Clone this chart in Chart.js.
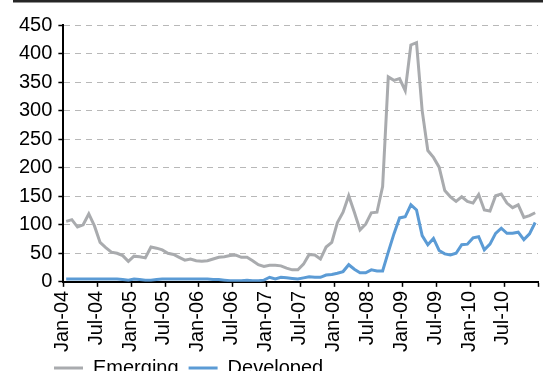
<!DOCTYPE html>
<html>
<head>
<meta charset="utf-8">
<script src="https://cdn.jsdelivr.net/npm/chart.js@4/dist/chart.umd.min.js"></script>
<style>
  html, body { margin: 0; padding: 0; background: #fff; overflow: hidden; }
  #wrap { width: 550px; height: 396px; }
</style>
</head>
<body>
<div id="wrap"><canvas id="c" width="550" height="396"></canvas></div>
<script>
// Monthly categories, Jan-04 .. Dec-10
const MONTH_NAMES = ['Jan','Feb','Mar','Apr','May','Jun','Jul','Aug','Sep','Oct','Nov','Dec'];
const YEARS = ['04','05','06','07','08','09','10'];
const categories = YEARS.flatMap(y => MONTH_NAMES.map(m => m + '-' + y));

// Emerging markets series
const emerging = [
  106, 109,  96, 100, 119,  98,  69,  60,  52,  50,  46,  36,
   45,  44,  42,  61,  59,  56,  50,  48,  43,  38,  40,  37,
   36,  37,  40,  43,  44,  46,  47,  43,  43,  37,  30,  27,
   29,  29,  28,  24,  21,  21,  31,  48,  47,  40,  61,  69,
  104, 122, 151, 122,  91, 101, 121, 122, 167, 359, 353, 356,
  335, 415, 419, 300, 230, 218, 201, 160, 149, 141, 149, 141,
  138, 153, 126, 124, 151, 154, 138, 130, 135, 113, 116, 121
];

// Developed markets series
const developed = [
    5,   5,   5,   5,   5,   5,   5,   5,   5,   5,   4,   3,
    5,   4,   3,   3,   4,   5,   5,   5,   5,   5,   5,   5,
    5,   5,   4,   4,   3,   2,   2,   2,   3,   2,   2,   3,
    8,   5,   8,   7,   6,   5,   7,   9,   8,   8,  12,  13,
   15,  18,  30,  22,  16,  16,  21,  19,  19,  52,  84, 112,
  114, 135, 126,  81,  65,  76,  55,  49,  47,  50,  65,  66,
   77,  79,  56,  66,  85,  94,  85,  85,  87,  74,  84, 104
];

// Value axis range and step
const Y_MIN = 0, Y_MAX = 450, Y_STEP = 50;
// A labelled tick every half year
const LABEL_EVERY = 6;

const FONT = 'Liberation Sans, Arial, Helvetica, sans-serif';
const GREY = '#a9abae';
const BLUE = '#5b9bd5';

// Thin dark rule across the top of the figure, and legend placement
const framePlugin = {
  id: 'frame',
  afterLayout(chart) {
    const lg = chart.legend;
    if (lg) {
      const dx = 44 - lg.left;
      lg.left += dx; lg.right += dx;
      const dy = 348 - lg.top;
      lg.top += dy; lg.bottom += dy;
    }
  },
  afterDraw(chart) {
    const ctx = chart.ctx;
    ctx.save();
    ctx.fillStyle = '#262626';
    ctx.fillRect(13, 0, 530, 2.5);
    ctx.restore();
  }
};

new Chart(document.getElementById('c'), {
  type: 'line',
  data: {
    labels: categories,
    datasets: [
      {
        label: 'Emerging',
        data: emerging,
        borderColor: GREY,
        backgroundColor: GREY,
        borderWidth: 3,
        pointRadius: 0,
        pointStyle: 'line',
        tension: 0
      },
      {
        label: 'Developed',
        data: developed,
        borderColor: BLUE,
        backgroundColor: BLUE,
        borderWidth: 3,
        pointRadius: 0,
        pointStyle: 'line',
        tension: 0
      }
    ]
  },
  options: {
    responsive: false,
    animation: false,
    devicePixelRatio: 1,
    layout: { padding: { left: 13, right: 12, top: 25, bottom: 0 } },
    plugins: {
      legend: {
        position: 'bottom',
        align: 'start',
        labels: {
          color: '#000',
          font: { family: FONT, size: 20 },
          usePointStyle: true,
          pointStyle: 'line',
          pointStyleWidth: 29,
          padding: 10
        }
      },
      tooltip: { enabled: false }
    },
    scales: {
      x: {
        type: 'category',
        offset: true,
        // the rotated end labels need no extra side room
        afterFit(scale) { scale.paddingLeft = 0; scale.paddingRight = 0; },
        grid: {
          offset: true,
          drawOnChartArea: false,
          drawTicks: true,
          tickLength: 5,
          tickWidth: 1.5,
          tickColor: (c) => (c.index === undefined || c.index % LABEL_EVERY === 0) ? '#000' : 'rgba(0,0,0,0)'
        },
        border: { display: true, color: '#000', width: 2 },
        ticks: {
          autoSkip: false,
          minRotation: 90,
          maxRotation: 90,
          padding: 4,
          labelOffset: -4,
          color: '#000',
          font: { family: FONT, size: 20 },
          callback: function (value, index) {
            return index % LABEL_EVERY === 0 ? this.getLabelForValue(value) : '';
          }
        }
      },
      y: {
        min: Y_MIN,
        max: Y_MAX,
        grid: {
          color: '#b8b8b8',
          lineWidth: 1,
          drawTicks: true,
          tickLength: 5,
          tickColor: '#000',
          tickWidth: 1.5
        },
        border: { display: true, color: '#000', width: 2, dash: [6, 5] },
        ticks: {
          stepSize: Y_STEP,
          padding: 6,
          color: '#000',
          font: { family: FONT, size: 20 }
        }
      }
    }
  },
  plugins: [framePlugin]
});
</script>
</body>
</html>
